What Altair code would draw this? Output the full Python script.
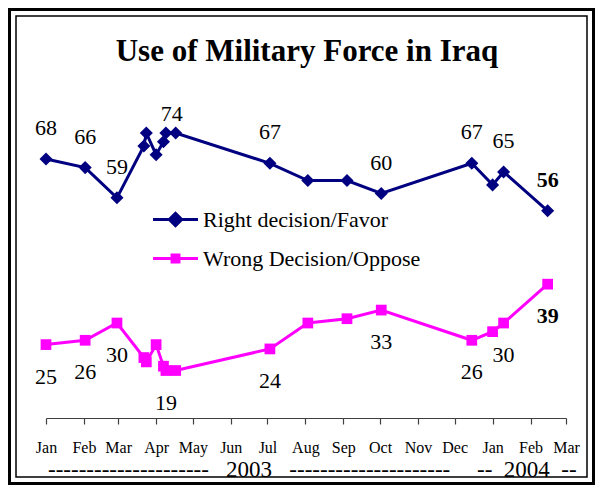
import altair as alt
import pandas as pd

# ---- data ----
dates = ["2003-01-01", "2003-02-02", "2003-02-28", "2003-03-22", "2003-03-24",
         "2003-04-01", "2003-04-07", "2003-04-09", "2003-04-17", "2003-07-03",
         "2003-08-03", "2003-09-04", "2003-10-02", "2003-12-15", "2004-01-01",
         "2004-01-10", "2004-02-15"]
right = [68, 66, 59, 71, 74, 69, 72, 74, 74, 67, 63, 63, 60, 67, 62, 65, 56]
wrong = [25, 26, 30, 22, 21, 25, 20, 19, 19, 24, 30, 31, 33, 26, 28, 30, 39]
right_labeled = ["2003-01-01", "2003-02-02", "2003-02-28", "2003-04-17", "2003-07-03",
                 "2003-10-02", "2003-12-15", "2004-01-10", "2004-02-15"]
wrong_labeled = ["2003-01-01", "2003-02-02", "2003-02-28", "2003-04-09", "2003-07-03",
                 "2003-10-02", "2003-12-15", "2004-01-10", "2004-02-15"]
series_names = ["Right decision/Favor", "Wrong Decision/Oppose"]
series_colors = ["#000080", "#FF00FF"]
NB = "\u00a0"
year_labels = ["-" * 21 + NB * 3 + "2003" + NB * 3 + "-" * 21,
               "--" + NB * 2 + "2004" + NB * 2 + "--"]
year_dates = ["2003-06-16", "2004-01-29"]
title_text = "Use of Military Force in Iraq"
final_date = "2004-02-15"
peak_date = "2003-04-17"

rows = []
for d, r, w in zip(dates, right, wrong):
    rows.append({"date": d + "T00:00:00", "day": d, "series": series_names[0], "value": r,
                 "label": str(r) if d in right_labeled else ""})
    rows.append({"date": d + "T00:00:00", "day": d, "series": series_names[1], "value": w,
                 "label": str(w) if d in wrong_labeled else ""})
df = pd.DataFrame(rows)

years = pd.DataFrame({"date": [d + "T00:00:00" for d in year_dates], "text": year_labels})

SERIF = "Liberation Serif"
W, H = 520, 354
PAD = {"left": 38, "top": 56, "right": 29, "bottom": 67}

x_enc = alt.X(
    "date:T",
    scale=alt.Scale(domain=[alt.DateTime(year=2003, month=1, date=1),
                            alt.DateTime(year=2004, month=3, date=1)]),
    axis=alt.Axis(format="%b", tickCount={"interval": "month", "step": 1},
                  labelFont=SERIF, labelFontSize=16, labelColor="black",
                  labelPadding=15, labelFlush=False, labelOverlap=False,
                  domainColor="#404040", domainWidth=1.2, tickColor="#404040",
                  tickSize=6, tickWidth=1.2, grid=False, title=None),
)
y_enc = alt.Y("value:Q", scale=alt.Scale(domain=[8, 90]), axis=None)

base = alt.Chart(df).encode(x=x_enc, y=y_enc)
is_right = alt.datum.series == series_names[0]
is_wrong = alt.datum.series == series_names[1]

right_line = base.transform_filter(is_right).mark_line(color=series_colors[0], strokeWidth=3)
wrong_line = base.transform_filter(is_wrong).mark_line(color=series_colors[1], strokeWidth=3)
right_pts = base.transform_filter(is_right).mark_point(
    shape="diamond", filled=True, size=170, color=series_colors[0], opacity=1)
wrong_pts = base.transform_filter(is_wrong).mark_point(
    shape="square", filled=True, size=115, color=series_colors[1], opacity=1)

txt_style = dict(font=SERIF, fontSize=22, color="black", baseline="middle")
right_txt = base.transform_filter(is_right).transform_filter(
    f"datum.label != '' && datum.day != '{peak_date}' && datum.day != '{final_date}'"
).mark_text(dy=-31, **txt_style).encode(text="label:N")
right_peak = base.transform_filter(is_right).transform_filter(
    f"datum.day == '{peak_date}'").mark_text(dy=-19, dx=-4, **txt_style).encode(text="label:N")
right_last = base.transform_filter(is_right).transform_filter(
    f"datum.day == '{final_date}'").mark_text(dy=-31, fontWeight="bold", **txt_style).encode(
    text="label:N")
wrong_txt = base.transform_filter(is_wrong).transform_filter(
    f"datum.label != '' && datum.day != '{final_date}'").mark_text(
    dy=32, **txt_style).encode(text="label:N")
wrong_last = base.transform_filter(is_wrong).transform_filter(
    f"datum.day == '{final_date}'").mark_text(dy=32, fontWeight="bold", **txt_style).encode(
    text="label:N")

year_txt = alt.Chart(years).mark_text(
    font=SERIF, fontSize=23, color="black", baseline="middle").encode(
    x=x_enc, y=alt.value(H + 52), text="text:N")

diamond_path = "M-1,-0.067H1V0.067H-1Z M0,-0.37L0.37,0L0,0.37L-0.37,0Z"
square_path = "M-1,-0.067H1V0.067H-1Z M-0.22,-0.22H0.22V0.22H-0.22Z"
leg = alt.Legend(orient="none", legendX=107, legendY=133, title=None,
                 labelFont=SERIF, labelFontSize=22, labelColor="black", labelLimit=500,
                 labelOffset=5, symbolSize=2025, symbolStrokeWidth=0, symbolOpacity=1,
                 rowPadding=5)
legend_layer = alt.Chart(df).transform_filter("false").mark_point(filled=True, opacity=1).encode(
    color=alt.Color("series:N", scale=alt.Scale(domain=series_names, range=series_colors),
                    legend=leg),
    shape=alt.Shape("series:N", scale=alt.Scale(domain=series_names,
                                                range=[diamond_path, square_path]),
                    legend=leg),
)

one = alt.Chart(pd.DataFrame({"k": [0]}))
title_mark = one.mark_text(text=title_text, font=SERIF, fontSize=31, fontWeight="bold",
                           color="black", baseline="alphabetic", align="center").encode(
    x=alt.value(W / 2 + 1), y=alt.value(-3))
frame_outer = one.mark_rect(filled=False, stroke="black", strokeWidth=3).encode(
    x=alt.value(-PAD["left"] + 1.5), x2=alt.value(W + PAD["right"] - 1.5),
    y=alt.value(-PAD["top"] + 1.5), y2=alt.value(H + PAD["bottom"] - 1.5))
frame_inner = one.mark_rect(filled=False, stroke="black", strokeWidth=1.5).encode(
    x=alt.value(-PAD["left"] + 8), x2=alt.value(W + PAD["right"] - 8),
    y=alt.value(-PAD["top"] + 8), y2=alt.value(H + PAD["bottom"] - 8))

chart = alt.layer(
    frame_outer, frame_inner, title_mark,
    right_line, wrong_line, right_pts, wrong_pts,
    right_txt, right_peak, right_last, wrong_txt, wrong_last, year_txt, legend_layer,
).properties(
    width=W, height=H,
    autosize=alt.AutoSizeParams(type="none"),
    padding=PAD,
).configure_view(stroke=None)

chart.save("out.html", embed_options={"renderer": "svg", "actions": False})
